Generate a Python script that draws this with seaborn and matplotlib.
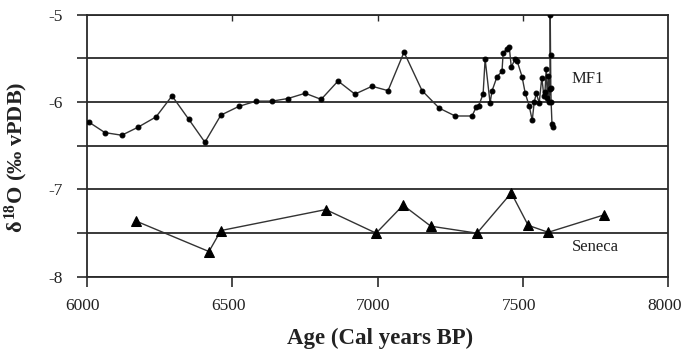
import matplotlib
matplotlib.use("Agg")
import matplotlib.pyplot as plt
import matplotlib.transforms as mtransforms
import seaborn as sns
import pandas as pd

# MF1 record
mf1_age = [6007, 6062, 6120, 6175, 6238, 6293, 6351, 6406, 6461, 6523, 6582, 6637,
           6692, 6751, 6806, 6864, 6922, 6981, 7036, 7091, 7153, 7212, 7267, 7325,
           7339, 7348, 7363, 7370, 7387, 7394, 7411, 7428, 7432, 7446, 7453, 7460,
           7473, 7480, 7497, 7508, 7522, 7532, 7539, 7546, 7556, 7565, 7572, 7576,
           7580, 7584, 7588, 7590, 7593, 7594, 7595, 7596, 7597, 7600, 7602]
mf1_d18o = [-6.23, -6.35, -6.38, -6.29, -6.17, -5.93, -6.20, -6.46, -6.15, -6.05, -5.99, -5.99,
            -5.96, -5.90, -5.97, -5.76, -5.91, -5.82, -5.87, -5.43, -5.87, -6.07, -6.16, -6.16,
            -6.06, -6.04, -5.91, -5.51, -6.01, -5.87, -5.71, -5.65, -5.44, -5.39, -5.37, -5.60,
            -5.51, -5.53, -5.71, -5.90, -6.05, -6.21, -6.00, -5.90, -6.01, -5.72, -5.93, -5.88,
            -5.62, -5.95, -5.70, -6.00, -5.85, -5.00, -5.46, -5.84, -6.00, -6.25, -6.29]

# Seneca record
sen_age = [6168, 6420, 6461, 6822, 6995, 7088, 7183, 7342, 7460, 7518, 7587, 7780]
sen_d18o = [-7.36, -7.71, -7.47, -7.23, -7.50, -7.18, -7.42, -7.50, -7.04, -7.41, -7.49, -7.29]

xticks = [6000, 6500, 7000, 7500, 8000]
yticks = [-8, -7.5, -7, -6.5, -6, -5.5, -5]
ytick_labels = ["-8", "", "-7", "", "-6", "", "-5"]

sns.set_style("white")
plt.rcParams["font.family"] = ["Liberation Serif", "DejaVu Serif"]
plt.rcParams["mathtext.fontset"] = "custom"
plt.rcParams["mathtext.rm"] = "Liberation Serif:bold"
plt.rcParams["mathtext.it"] = "Liberation Serif:bold"
plt.rcParams["mathtext.bf"] = "Liberation Serif:bold"

fig = plt.figure(figsize=(6.84, 3.55), dpi=100)
ax = fig.add_axes([0.127, 0.22, 0.85, 0.739])

for y in yticks:
    ax.axhline(y, color="#2a2a2a", lw=1.3, zorder=1)

mf1 = pd.DataFrame({"age": mf1_age, "d18o": mf1_d18o})
sen = pd.DataFrame({"age": sen_age, "d18o": sen_d18o})

sns.lineplot(data=mf1, x="age", y="d18o", ax=ax, sort=False, estimator=None,
             color="#333333", lw=1.0, marker="o", markersize=3.5,
             markerfacecolor="black", markeredgecolor="black", zorder=3)
sns.lineplot(data=sen, x="age", y="d18o", ax=ax, sort=False, estimator=None,
             color="#333333", lw=1.0, marker="^", markersize=6.5,
             markerfacecolor="black", markeredgecolor="black", zorder=3)

ax.set_xlim(6000, 8000)
ax.set_ylim(-8, -5)
ax.set_xticks(xticks)
ax.set_xticklabels([str(t) for t in xticks])
ax.set_yticks(yticks)
ax.set_yticklabels(ytick_labels)

for s in ["left", "right", "bottom", "top"]:
    ax.spines[s].set_visible(True)
    ax.spines[s].set_color("#2a2a2a")
    ax.spines[s].set_linewidth(1.3)

ax.tick_params(axis="both", which="major", direction="out", length=7.5, width=1.2,
               color="#2a2a2a", labelsize=12.5, labelcolor="#222222")
ax.tick_params(axis="x", pad=8, bottom=True)
ax.tick_params(axis="y", pad=10, left=True)

shift = mtransforms.ScaledTranslation(-4 / 100, 0, fig.dpi_scale_trans)
for lbl in ax.get_xticklabels():
    lbl.set_transform(lbl.get_transform() + shift)

sec = ax.secondary_xaxis("top")
sec.set_xticks(xticks[1:-1])
sec.set_xticklabels([])
sec.tick_params(direction="in", length=4, width=1.0, color="#2a2a2a")
sec.spines["top"].set_visible(False)

ax.text(7668, -5.74, "MF1", fontsize=12, color="#222222", va="center", ha="left")
ax.text(7668, -7.66, "Seneca", fontsize=12, color="#222222", va="center", ha="left")

ax.set_xlabel("Age (Cal years BP)", fontsize=16.5, fontweight="bold", color="#222222")
ax.set_ylabel(r"$\delta^{18}$O (‰ vPDB)", fontsize=16, fontweight="bold", color="#222222")
ax.xaxis.set_label_coords(0.504, -0.195)
ax.yaxis.set_label_coords(-0.098, 0.456)

fig.savefig("out.png", dpi=100, facecolor="white")
